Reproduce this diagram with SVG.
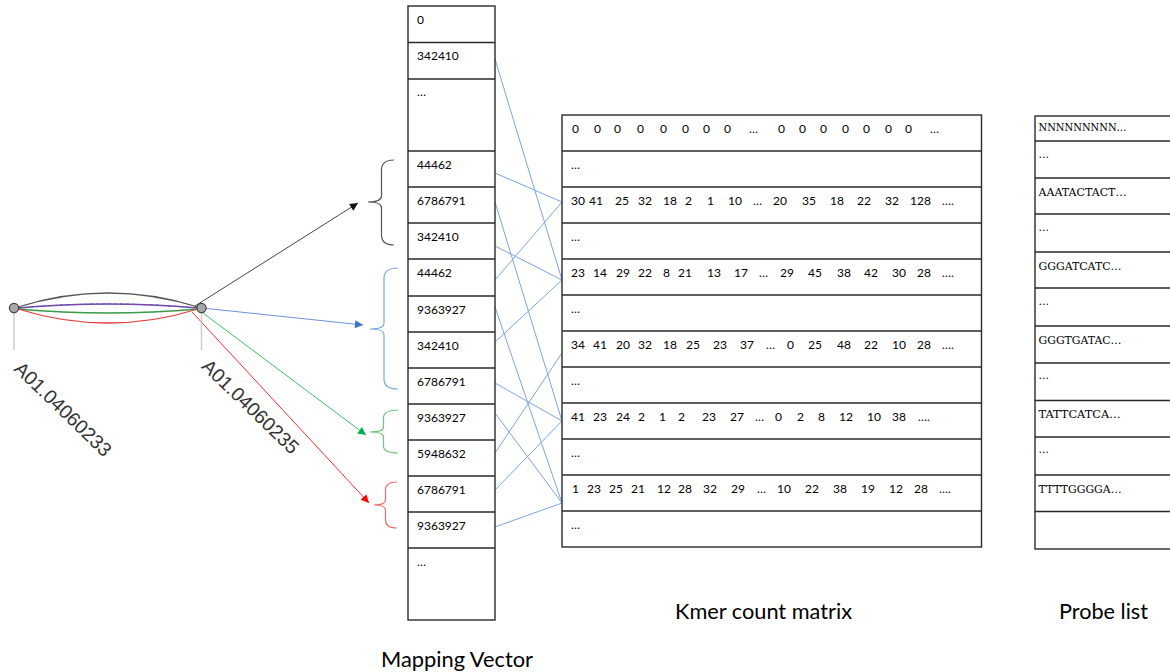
<svg xmlns="http://www.w3.org/2000/svg" width="1170" height="672" viewBox="0 0 1170 672">
<style>
.cell{font-family:Lato,"Open Sans","Liberation Sans",sans-serif;font-size:12px;fill:#000}
.box{fill:#fff;stroke:#2a2a2a;stroke-width:1.4}
.sep{stroke:#2a2a2a;stroke-width:1.3}
.probe{font-family:"DejaVu Serif","Liberation Serif",serif;font-size:10.5px;fill:#000}
.title{font-family:Lato,"Open Sans","Liberation Sans",sans-serif;font-size:21px;fill:#000}
.lbl{font-family:"Liberation Sans",Arial,sans-serif;font-size:19.4px;fill:#333}
.map{stroke:#7da3e3;stroke-width:1;fill:none}
.brace{fill:none;stroke-width:1.2}
</style>
<defs>
<marker id="ah-k" viewBox="0 0 10 10" refX="10" refY="5" markerWidth="10" markerHeight="8" markerUnits="userSpaceOnUse" orient="auto"><path d="M0,0L10,5L0,10z" fill="#111"/></marker>
<marker id="ah-b" viewBox="0 0 10 10" refX="10" refY="5" markerWidth="10" markerHeight="8" markerUnits="userSpaceOnUse" orient="auto"><path d="M0,0L10,5L0,10z" fill="#4472c4"/></marker>
<marker id="ah-g" viewBox="0 0 10 10" refX="10" refY="5" markerWidth="10" markerHeight="8" markerUnits="userSpaceOnUse" orient="auto"><path d="M0,0L10,5L0,10z" fill="#00b050"/></marker>
<marker id="ah-r" viewBox="0 0 10 10" refX="10" refY="5" markerWidth="10" markerHeight="8" markerUnits="userSpaceOnUse" orient="auto"><path d="M0,0L10,5L0,10z" fill="#ff0000"/></marker>
</defs>

<g id="connectors">
  <g id="arcs" fill="none">
    <path d="M18,307 Q108,279 198,307" stroke="#555" stroke-width="1.3"/>
    <path d="M18,308 Q108,300 198,308" stroke="#3d5ad6" stroke-width="1.3"/>
    <path d="M18,308 Q108,300 198,308" stroke="#d03060" stroke-width="1.1" stroke-dasharray="3,3"/>
    <path d="M18,309 Q108,317 198,309" stroke="#3a9a48" stroke-width="1.5"/>
    <path d="M18,309 Q108,337 198,309" stroke="#e03a3a" stroke-width="1.3"/>
  </g>
  <g id="arrows" fill="none">
    <line x1="195" y1="306" x2="358" y2="203" stroke="#444" stroke-width="1" marker-end="url(#ah-k)"/>
    <line x1="202" y1="308" x2="363" y2="325" stroke="#6f93d6" stroke-width="1" marker-end="url(#ah-b)"/>
    <line x1="199" y1="310" x2="366" y2="435" stroke="#3cc062" stroke-width="1" marker-end="url(#ah-g)"/>
    <line x1="192" y1="312" x2="369" y2="503" stroke="#ff3030" stroke-width="1" marker-end="url(#ah-r)"/>
  </g>
  <g id="mapping-lines" class="map">
    <line x1="495" y1="59" x2="562" y2="280"/>
    <line x1="495" y1="173" x2="562" y2="202"/>
    <line x1="495" y1="202" x2="562" y2="421"/>
    <line x1="495" y1="246" x2="562" y2="280"/>
    <line x1="495" y1="280" x2="562" y2="202"/>
    <line x1="495" y1="307" x2="562" y2="503"/>
    <line x1="495" y1="342" x2="562" y2="280"/>
    <line x1="495" y1="383" x2="562" y2="421"/>
    <line x1="495" y1="413" x2="562" y2="503"/>
    <line x1="495" y1="453" x2="562" y2="353"/>
    <line x1="495" y1="490" x2="562" y2="421"/>
    <line x1="495" y1="527" x2="562" y2="503"/>
  </g>
</g>

<g id="node-A01.04060233">
  <line x1="14" y1="313" x2="14" y2="350" stroke="#ccc" stroke-width="1.5"/>
  <circle cx="14" cy="308" r="4.6" fill="#a8a8a8" stroke="#444" stroke-width="1.2"/>
  <text class="lbl" transform="translate(13,370) rotate(44)">A01.04060233</text>
</g>
<g id="node-A01.04060235">
  <line x1="201.5" y1="313" x2="201.5" y2="350" stroke="#ccc" stroke-width="1.5"/>
  <circle cx="201.5" cy="308" r="4.6" fill="#a8a8a8" stroke="#444" stroke-width="1.2"/>
  <text class="lbl" transform="translate(200.5,367.5) rotate(44)">A01.04060235</text>
</g>

<g id="brace-black">
  <path class="brace" stroke="#555" d="M394,160 Q381.5,160 381.5,170 L381.5,196 Q381.5,202 368,202 Q381.5,202 381.5,208 L381.5,235 Q381.5,245 394,245"/>
</g>
<g id="brace-blue">
  <path class="brace" stroke="#7ea6e0" d="M398,268 Q384,268 384,278 L384,323 Q384,329 370,329 Q384,329 384,335 L384,379 Q384,389 398,389"/>
</g>
<g id="brace-green">
  <path class="brace" stroke="#6cc77a" d="M398,410 Q383.5,410 383.5,418 L383.5,427 Q383.5,432 370,432 Q383.5,432 383.5,437 L383.5,446 Q383.5,453 398,453"/>
</g>
<g id="brace-red">
  <path class="brace" stroke="#f26b6b" d="M397,482 Q385.5,482 385.5,490 L385.5,500 Q385.5,505 374,505 Q385.5,505 385.5,510 L385.5,520 Q385.5,528 397,528"/>
</g>

<g id="mapping-vector">
  <rect class="box" x="408" y="6" width="87" height="614"/>
  <g class="sep">
    <line x1="408" y1="42.5" x2="495" y2="42.5"/><line x1="408" y1="79" x2="495" y2="79"/>
    <line x1="408" y1="151" x2="495" y2="151"/><line x1="408" y1="187" x2="495" y2="187"/>
    <line x1="408" y1="223" x2="495" y2="223"/><line x1="408" y1="259" x2="495" y2="259"/>
    <line x1="408" y1="296" x2="495" y2="296"/><line x1="408" y1="332" x2="495" y2="332"/>
    <line x1="408" y1="368" x2="495" y2="368"/><line x1="408" y1="404" x2="495" y2="404"/>
    <line x1="408" y1="440" x2="495" y2="440"/><line x1="408" y1="476" x2="495" y2="476"/>
    <line x1="408" y1="512" x2="495" y2="512"/><line x1="408" y1="548" x2="495" y2="548"/>
  </g>
  <g class="cell">
    <text x="417" y="23.5">0</text>
    <text x="417" y="60">342410</text>
    <text x="417" y="96">…</text>
    <text x="417" y="169">44462</text>
    <text x="417" y="205">6786791</text>
    <text x="417" y="241">342410</text>
    <text x="417" y="277">44462</text>
    <text x="417" y="313.5">9363927</text>
    <text x="417" y="349.5">342410</text>
    <text x="417" y="385.5">6786791</text>
    <text x="417" y="421.5">9363927</text>
    <text x="417" y="457.5">5948632</text>
    <text x="417" y="493.5">6786791</text>
    <text x="417" y="529.5">9363927</text>
    <text x="417" y="565.5">…</text>
  </g>
  <text class="title" x="381" y="667" textLength="152" lengthAdjust="spacingAndGlyphs">Mapping Vector</text>
</g>

<g id="kmer-matrix">
  <rect class="box" x="562" y="115" width="419.5" height="432"/>
  <g class="sep">
    <line x1="562" y1="151" x2="981.5" y2="151"/><line x1="562" y1="187" x2="981.5" y2="187"/>
    <line x1="562" y1="223" x2="981.5" y2="223"/><line x1="562" y1="259" x2="981.5" y2="259"/>
    <line x1="562" y1="295" x2="981.5" y2="295"/><line x1="562" y1="331" x2="981.5" y2="331"/>
    <line x1="562" y1="367" x2="981.5" y2="367"/><line x1="562" y1="403" x2="981.5" y2="403"/>
    <line x1="562" y1="439" x2="981.5" y2="439"/><line x1="562" y1="475" x2="981.5" y2="475"/>
    <line x1="562" y1="511" x2="981.5" y2="511"/>
  </g>
  <g class="cell">
    <text y="132.5"><tspan x="572">0</tspan><tspan x="594">0</tspan><tspan x="614">0</tspan><tspan x="637">0</tspan><tspan x="660">0</tspan><tspan x="682">0</tspan><tspan x="703">0</tspan><tspan x="724">0</tspan><tspan x="749">…</tspan><tspan x="778">0</tspan><tspan x="799">0</tspan><tspan x="820">0</tspan><tspan x="842">0</tspan><tspan x="863">0</tspan><tspan x="885">0</tspan><tspan x="905">0</tspan><tspan x="930">…</tspan></text>
    <text x="571" y="168.5">…</text>
    <text y="204.5"><tspan x="571">30</tspan><tspan x="589">41</tspan><tspan x="615">25</tspan><tspan x="638">32</tspan><tspan x="663">18</tspan><tspan x="685">2</tspan><tspan x="707">1</tspan><tspan x="728">10</tspan><tspan x="753">…</tspan><tspan x="773">20</tspan><tspan x="802">35</tspan><tspan x="830">18</tspan><tspan x="857">22</tspan><tspan x="885">32</tspan><tspan x="910">128</tspan><tspan x="942">….</tspan></text>
    <text x="571" y="240.5">…</text>
    <text y="276.5"><tspan x="571">23</tspan><tspan x="593">14</tspan><tspan x="616">29</tspan><tspan x="638">22</tspan><tspan x="663">8</tspan><tspan x="678">21</tspan><tspan x="707">13</tspan><tspan x="734">17</tspan><tspan x="759">…</tspan><tspan x="780">29</tspan><tspan x="808">45</tspan><tspan x="837">38</tspan><tspan x="864">42</tspan><tspan x="892">30</tspan><tspan x="917">28</tspan><tspan x="942">….</tspan></text>
    <text x="571" y="312.5">…</text>
    <text y="348.5"><tspan x="571">34</tspan><tspan x="593">41</tspan><tspan x="616">20</tspan><tspan x="638">32</tspan><tspan x="663">18</tspan><tspan x="686">25</tspan><tspan x="713">23</tspan><tspan x="740">37</tspan><tspan x="766">…</tspan><tspan x="787">0</tspan><tspan x="808">25</tspan><tspan x="837">48</tspan><tspan x="864">22</tspan><tspan x="892">10</tspan><tspan x="917">28</tspan><tspan x="942">….</tspan></text>
    <text x="571" y="384.5">…</text>
    <text y="420.5"><tspan x="571">41</tspan><tspan x="593">23</tspan><tspan x="616">24</tspan><tspan x="638">2</tspan><tspan x="659">1</tspan><tspan x="678">2</tspan><tspan x="702">23</tspan><tspan x="730">27</tspan><tspan x="755">…</tspan><tspan x="775">0</tspan><tspan x="797">2</tspan><tspan x="818">8</tspan><tspan x="839">12</tspan><tspan x="867">10</tspan><tspan x="892">38</tspan><tspan x="918">….</tspan></text>
    <text x="571" y="456.5">…</text>
    <text y="492.5"><tspan x="572">1</tspan><tspan x="587">23</tspan><tspan x="609">25</tspan><tspan x="631">21</tspan><tspan x="657">12</tspan><tspan x="678">28</tspan><tspan x="703">32</tspan><tspan x="731">29</tspan><tspan x="757">…</tspan><tspan x="777">10</tspan><tspan x="805">22</tspan><tspan x="833">38</tspan><tspan x="861">19</tspan><tspan x="889">12</tspan><tspan x="914">28</tspan><tspan x="939">….</tspan></text>
    <text x="571" y="528.5">…</text>
  </g>
  <text class="title" x="675" y="619" textLength="177" lengthAdjust="spacingAndGlyphs">Kmer count matrix</text>
</g>

<g id="probe-list">
  <rect class="box" x="1035" y="116" width="145" height="433"/>
  <g class="sep">
    <line x1="1035" y1="141" x2="1180" y2="141"/><line x1="1035" y1="178" x2="1180" y2="178"/>
    <line x1="1035" y1="214" x2="1180" y2="214"/><line x1="1035" y1="252" x2="1180" y2="252"/>
    <line x1="1035" y1="288" x2="1180" y2="288"/><line x1="1035" y1="326" x2="1180" y2="326"/>
    <line x1="1035" y1="363" x2="1180" y2="363"/><line x1="1035" y1="400.5" x2="1180" y2="400.5"/>
    <line x1="1035" y1="437" x2="1180" y2="437"/><line x1="1035" y1="475" x2="1180" y2="475"/>
    <line x1="1035" y1="511.5" x2="1180" y2="511.5"/>
  </g>
  <g class="probe">
    <text x="1038.5" y="131" textLength="88" lengthAdjust="spacingAndGlyphs">NNNNNNNNN…</text>
    <text x="1038.5" y="158">…</text>
    <text x="1038.5" y="196" textLength="88" lengthAdjust="spacingAndGlyphs">AAATACTACT…</text>
    <text x="1038.5" y="231">…</text>
    <text x="1038.5" y="270" textLength="83" lengthAdjust="spacingAndGlyphs">GGGATCATC…</text>
    <text x="1038.5" y="305">…</text>
    <text x="1038.5" y="344" textLength="83" lengthAdjust="spacingAndGlyphs">GGGTGATAC…</text>
    <text x="1038.5" y="378.5">…</text>
    <text x="1038.5" y="417.5" textLength="82" lengthAdjust="spacingAndGlyphs">TATTCATCA…</text>
    <text x="1038.5" y="453">…</text>
    <text x="1038.5" y="492.5" textLength="83" lengthAdjust="spacingAndGlyphs">TTTTGGGGA…</text>
  </g>
  <text class="title" x="1059" y="619" textLength="89" lengthAdjust="spacingAndGlyphs">Probe list</text>
</g>
</svg>
